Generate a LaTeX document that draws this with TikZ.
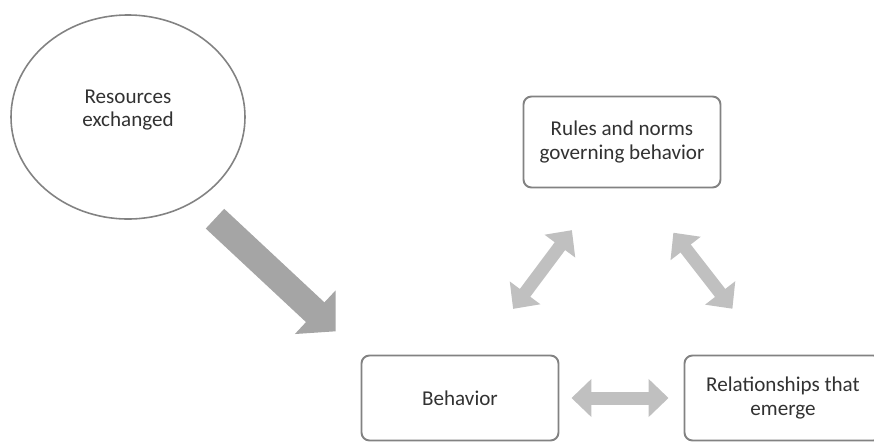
\documentclass[tikz,border=0pt]{standalone}
\usepackage{fontspec}
\setmainfont{Carlito}
\usepackage{tikz}
\usetikzlibrary{shapes.geometric}
\usetikzlibrary{arrows.meta}
\usetikzlibrary{calc}
\definecolor{boxline}{RGB}{130,130,130}
\definecolor{txtgray}{RGB}{50,50,50}
\definecolor{bigarrow}{RGB}{165,165,165}
\definecolor{smallarrow}{RGB}{192,192,192}
\tikzset{box/.style={draw=boxline, line width=1.1pt, rounded corners=1.6mm, fill=white,
  minimum width=39.4mm, minimum height=17mm, align=center, text=txtgray,
  font=\fontsize{12}{13.5}\selectfont}}
\tikzset{dblarrow/.style={draw=smallarrow, line width=2.6mm,
  {Triangle[width=7.4mm,length=4mm]}-{Triangle[width=7.4mm,length=4mm]}}}
\begin{document}
\begin{tikzpicture}[x=0.2mm,y=-0.2mm]
\useasboundingbox (0,0) rectangle (874,443);
\clip (0,0) rectangle (874,443);
\node[ellipse, draw=boxline, line width=0.9pt, minimum width=46.8mm, minimum height=40.8mm,
  text=txtgray, font=\fontsize{12}{13.5}\selectfont] (res) at (128,117) {};
\node[align=center, text=txtgray, font=\fontsize{12}{13.5}\selectfont] (restxt) at ($(res.center)+(0,-7)$) {Resources\\exchanged};
\node[box, minimum height=18.2mm] (rules) at (622,142) {Rules and norms\\governing behavior};
\node[box] (beh) at (460,398) {Behavior};
\node[box] (rel) at (783,398) {Relationships that\\emerge};
% big arrow into behavior
\draw[draw=bigarrow, line width=5.4mm, -{Triangle[width=11.6mm,length=5.6mm]},
  shorten <=5.2mm, shorten >=6.8mm] (res.-51) -- (beh.north west);
% triangle of double arrows
\draw[dblarrow, shorten <=11.4mm, shorten >=10.4mm] ($(beh.north)+(19,0)$) -- ($(rules.south)+(-19,0)$);
\draw[dblarrow, shorten <=11.2mm, shorten >=11.6mm] ($(rules.south)+(17,0)$) -- ($(rel.north)+(-15,0)$);
\draw[dblarrow, shorten <=2.4mm, shorten >=3mm] (beh.east) -- (rel.west);
\end{tikzpicture}
\end{document}
